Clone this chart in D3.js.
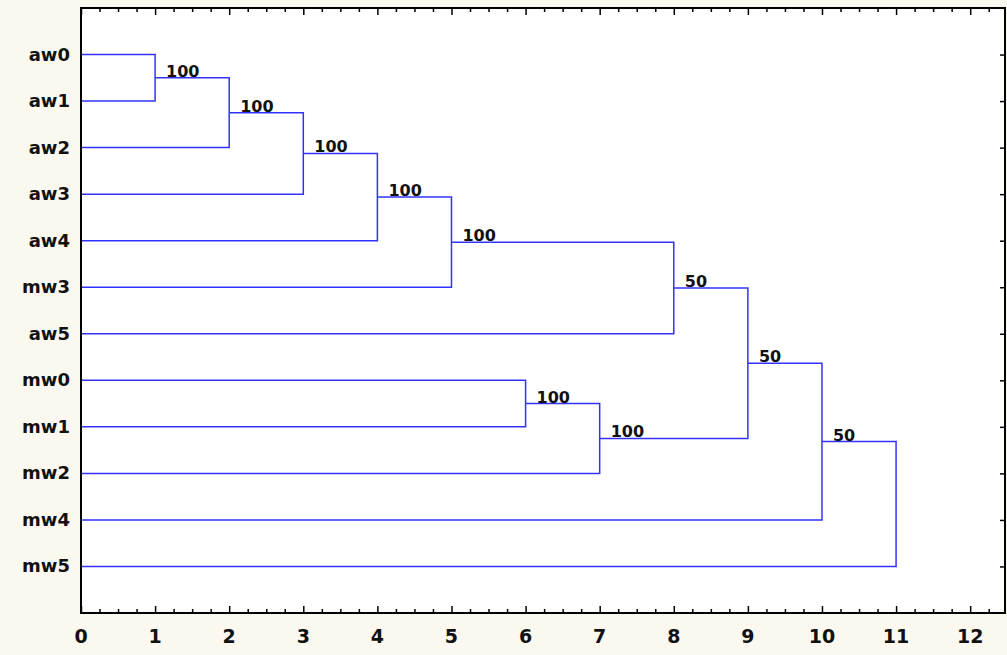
<!DOCTYPE html>
<html>
<head>
<meta charset="utf-8">
<script src="https://cdn.jsdelivr.net/npm/d3@7/dist/d3.min.js"></script>
<style>
  html, body { margin: 0; padding: 0; background: #fbf9ef; }
  svg { display: block; }
  text { font-family: "DejaVu Sans", Verdana, sans-serif; font-weight: bold; fill: #111; }
</style>
</head>
<body>
<svg id="chart" width="1007" height="655"></svg>
<script>
// Leaf order, top to bottom
const leaves = ["aw0", "aw1", "aw2", "aw3", "aw4", "mw3", "aw5", "mw0", "mw1", "mw2", "mw4", "mw5"];

// Linkage: cluster (12 + i) joins mergeFirst[i] and mergeSecond[i] at mergeHeight[i]
const mergeFirst  = [0, 12, 13, 14, 15, 16, 7, 18, 17, 20, 21];
const mergeSecond = [1, 2, 3, 4, 5, 6, 8, 9, 19, 10, 11];
const mergeHeight = [1, 2, 3, 4, 5, 8, 6, 7, 9, 10, 11];
// bootstrap support per join (root has none)
const mergeSupport = [100, 100, 100, 100, 100, 50, 100, 100, 50, 50, null];

const xTicks = [0, 1, 2, 3, 4, 5, 6, 7, 8, 9, 10, 11, 12];

const W = 1007, H = 655;
const margin = { left: 81, top: 8, right: 2, bottom: 42 };
const plotW = W - margin.left - margin.right;
const plotH = H - margin.top - margin.bottom;

const svg = d3.select("#chart");

const x = d3.scaleLinear().domain([0, 12.47]).range([margin.left, margin.left + plotW]);
const y = d3.scaleLinear().domain([-1, leaves.length]).range([margin.top, margin.top + plotH]);

// plot area
svg.append("rect")
  .attr("x", margin.left).attr("y", margin.top)
  .attr("width", plotW).attr("height", plotH)
  .attr("fill", "#ffffff");

// node positions
const nodeX = [], nodeY = [];
leaves.forEach((d, i) => { nodeX[i] = x(0); nodeY[i] = y(i); });
mergeFirst.forEach((a, i) => {
  const b = mergeSecond[i];
  const k = leaves.length + i;
  nodeX[k] = x(mergeHeight[i]);
  nodeY[k] = (nodeY[a] + nodeY[b]) / 2;
});

// dendrogram links
const g = svg.append("g");
mergeFirst.forEach((a, i) => {
  const b = mergeSecond[i];
  const k = leaves.length + i;
  const p = d3.path();
  p.moveTo(nodeX[a], nodeY[a]);
  p.lineTo(nodeX[k], nodeY[a]);
  p.lineTo(nodeX[k], nodeY[b]);
  p.lineTo(nodeX[b], nodeY[b]);
  g.append("path")
    .attr("d", p.toString())
    .attr("fill", "none")
    .attr("stroke", "#3333ff")
    .attr("stroke-width", 1.5);
});

// support values on each join
mergeFirst.forEach((a, i) => {
  if (mergeSupport[i] == null) return;
  const k = leaves.length + i;
  svg.append("text")
    .attr("x", nodeX[k] + 11)
    .attr("y", nodeY[k] - 1)
    .attr("font-size", 16)
    .text(mergeSupport[i]);
});

// frame
svg.append("rect")
  .attr("x", margin.left).attr("y", margin.top)
  .attr("width", plotW).attr("height", plotH)
  .attr("fill", "none")
  .attr("stroke", "#000")
  .attr("stroke-width", 2);

// x axes: inward ticks, majors at integers, minors at quarters
const minorTicks = d3.range(0, 12.5, 0.25).filter(v => Math.abs(v - Math.round(v)) > 1e-6);
const axBottom = d3.axisTop(x).tickValues(xTicks).tickSize(7).tickFormat("");
const axBottomMinor = d3.axisTop(x).tickValues(minorTicks).tickSize(4).tickFormat("");
const axTop = d3.axisBottom(x).tickValues(xTicks).tickSize(7).tickFormat("");
const axTopMinor = d3.axisBottom(x).tickValues(minorTicks).tickSize(4).tickFormat("");
[[axBottom, margin.top + plotH], [axBottomMinor, margin.top + plotH], [axTop, margin.top], [axTopMinor, margin.top]]
  .forEach(([ax, ty]) => {
    const a = svg.append("g").attr("transform", `translate(0,${ty})`).call(ax);
    a.select(".domain").remove();
    a.selectAll("line").attr("stroke", "#000").attr("stroke-width", 1.5);
  });

// x tick labels
svg.append("g").selectAll("text")
  .data(xTicks).join("text")
  .attr("x", d => x(d))
  .attr("y", margin.top + plotH + 30)
  .attr("text-anchor", "middle")
  .attr("font-size", 19)
  .text(d => d);

// right-side inward ticks at each row
const rightAxis = d3.axisLeft(y).tickValues(d3.range(leaves.length)).tickSize(5).tickFormat("");
const ra = svg.append("g").attr("transform", `translate(${margin.left + plotW},0)`).call(rightAxis);
ra.select(".domain").remove();
ra.selectAll("line").attr("stroke", "#000").attr("stroke-width", 1.5);

// row labels
svg.append("g").selectAll("text")
  .data(leaves).join("text")
  .attr("x", margin.left - 11)
  .attr("y", (d, i) => y(i) + 6)
  .attr("text-anchor", "end")
  .attr("font-size", 18)
  .text(d => d);
</script>
</body>
</html>
